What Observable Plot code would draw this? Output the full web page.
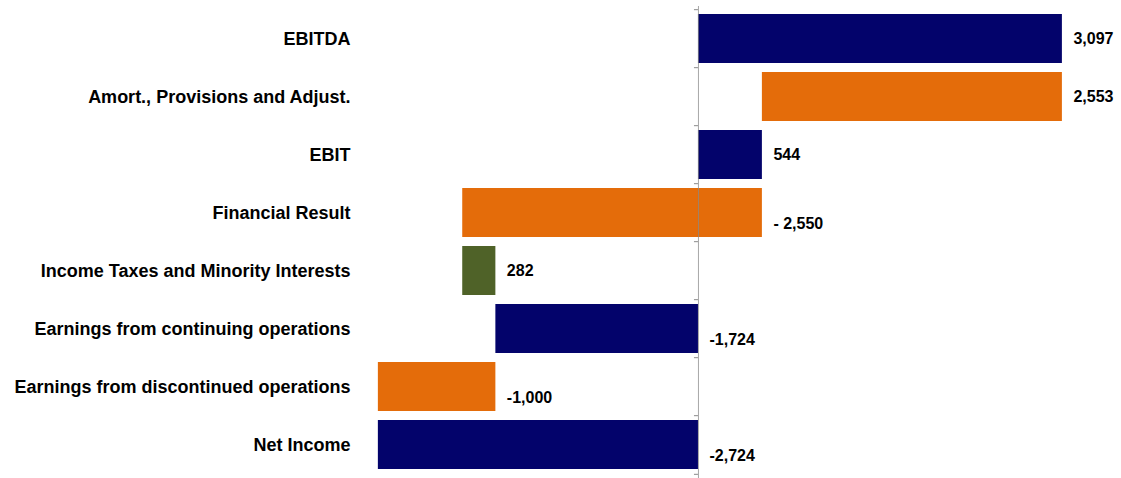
<!DOCTYPE html>
<html>
<head>
<meta charset="utf-8">
<script src="https://cdn.jsdelivr.net/npm/d3@7"></script>
<script src="https://cdn.jsdelivr.net/npm/@observablehq/plot@0.6"></script>
<style>
  html, body { margin: 0; padding: 0; background: #ffffff; }
  #chart svg { display: block; }
</style>
</head>
<body>
<div id="chart"></div>
<script>
// ---- Data ----
const categories = [
  "EBITDA",
  "Amort., Provisions and Adjust.",
  "EBIT",
  "Financial Result",
  "Income Taxes and Minority Interests",
  "Earnings from continuing operations",
  "Earnings from discontinued operations",
  "Net Income"
];
// "total" bars start at zero; "delta" bars start where the previous bar ended
const kinds   = ["total", "delta", "total", "delta", "delta", "total", "delta", "total"];
const amounts = [3097, -2553, 544, -2550, 282, -1724, -1000, -2724];
const valueLabels = ["3,097", "2,553", "544", "- 2,550", "282", "-1,724", "-1,000", "-2,724"];

// ---- Build waterfall rows ----
let running = 0;
const rows = categories.map((cat, i) => {
  let x1, x2;
  if (kinds[i] === "total") { x1 = 0; x2 = amounts[i]; }
  else { x1 = running; x2 = running + amounts[i]; }
  running = x2;
  const type = kinds[i] === "total" ? "total" : (amounts[i] < 0 ? "decrease" : "increase");
  return { cat, x1, x2, type, label: valueLabels[i], end: Math.max(x1, x2), neg: valueLabels[i].trim().startsWith("-") };
});

const W = 1121, H = 478, mTop = 6, mBottom = 0;
const pInner = 0.15, pOuter = 0.1;
const step = (H - mTop - mBottom) / (categories.length - pInner + 2 * pOuter);

const chart = Plot.plot({
  width: W,
  height: H,
  marginTop: mTop,
  marginBottom: mBottom,
  marginLeft: 360,
  marginRight: 0,
  style: { fontFamily: "'Liberation Sans', Arial, sans-serif", background: "#ffffff", color: "#000" },
  x: { domain: [-2876, 3600], axis: null },
  y: { domain: categories, paddingInner: pInner, paddingOuter: pOuter, axis: null },
  color: { domain: ["total", "decrease", "increase"], range: ["#03036b", "#e46c0a", "#4f6228"] },
  marks: [
    Plot.barX(rows, { y: "cat", x1: "x1", x2: "x2", fill: "type" }),
    // zero axis line
    Plot.ruleX([0], { stroke: "#8a8a8a", strokeOpacity: 0.75, strokeWidth: 1 }),
    // small ticks at band boundaries
    Plot.ruleY(categories, { y: d => d, x1: 0, x2: 0, insetLeft: -4, dy: -step / 2, stroke: "#8a8a8a" }),
    Plot.ruleY(categories.slice(-1), { y: d => d, x1: 0, x2: 0, insetLeft: -4, dy: step / 2, stroke: "#8a8a8a" }),
    // category labels
    Plot.axisY({ tickSize: 0, tickPadding: 10, fontSize: 18, fontWeight: "bold", fill: "#000", label: null }),
    // value labels
    Plot.text(rows.filter(d => !d.neg), { y: "cat", x: "end", text: "label", textAnchor: "start", dx: 11, dy: 0, fontSize: 16, fontWeight: "bold", fill: "#000" }),
    Plot.text(rows.filter(d => d.neg), { y: "cat", x: "end", text: "label", textAnchor: "start", dx: 11, dy: 11, fontSize: 16, fontWeight: "bold", fill: "#000" })
  ]
});

document.getElementById("chart").appendChild(chart);
</script>
</body>
</html>
